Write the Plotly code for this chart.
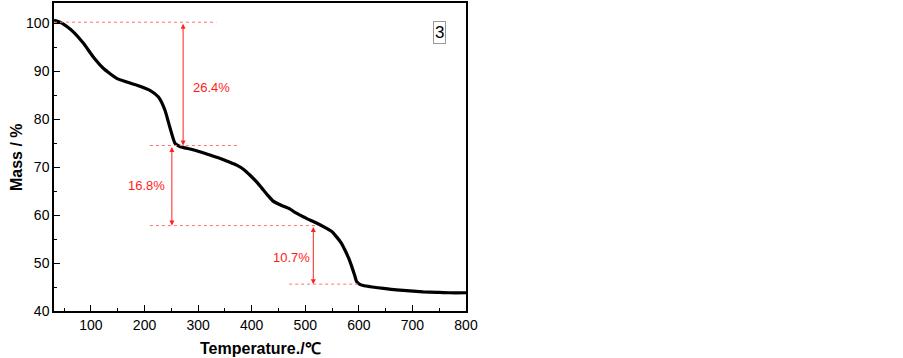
import plotly.graph_objects as go

# TGA curve (Temperature in degC, Mass in %)
temperature = [31, 44, 55, 67, 86, 104, 123, 148, 185, 210, 226, 238, 247, 257, 264, 272, 287, 303,
               322, 341, 357, 372, 385, 397, 410, 422, 431, 440, 456, 471, 480, 490, 502, 520, 540,
               550, 558, 567, 574, 581, 587, 592, 596, 601, 608, 625, 646, 670, 695, 720, 745, 770, 800]
mass = [100.6, 100.1, 99.3, 98.2, 95.8, 93.0, 90.6, 88.5, 87.1, 86.0, 84.6, 81.9, 78.4, 74.9, 74.4,
        74.1, 73.7, 73.2, 72.5, 71.8, 71.1, 70.4, 69.5, 68.3, 66.8, 65.2, 64.0, 62.9, 62.0, 61.3,
        60.6, 60.0, 59.3, 58.4, 57.2, 56.5, 55.5, 54.2, 52.7, 51.0, 49.2, 47.5, 46.1, 45.6, 45.3,
        45.0, 44.7, 44.4, 44.2, 44.0, 43.9, 43.8, 43.8]

# dashed reference levels: (level, x start, x end)
level_y = [100.2, 74.5, 57.8, 45.6]
level_x0 = [31, 210, 210, 470]
level_x1 = [334, 378, 524, 602]

# step arrows: x position, top, bottom, label, label x, label y
step_x = [272, 251, 515]
step_top = [100.2, 74.5, 57.8]
step_bot = [74.5, 57.8, 45.6]
step_label = ["26.4%", "16.8%", "10.7%"]
label_x = [286, 204, 474]
label_y = [86.5, 66.1, 51.2]

fig = go.Figure()
fig.add_trace(go.Scatter(x=temperature, y=mass, mode="lines",
                         line=dict(color="black", width=3.2, shape="spline", smoothing=0.5),
                         showlegend=False, hoverinfo="skip"))

for y, x0, x1 in zip(level_y, level_x0, level_x1):
    fig.add_shape(type="line", xref="x", yref="y", x0=x0, x1=x1, y0=y, y1=y,
                  line=dict(color="#ff7070", width=1, dash="dot"))

for x, t, b in zip(step_x, step_top, step_bot):
    fig.add_annotation(x=x, y=b, ax=x, ay=t, xref="x", yref="y", axref="x", ayref="y",
                       text="", showarrow=True, arrowhead=2, arrowside="end+start",
                       arrowsize=1, arrowwidth=1, arrowcolor="#ff2020", standoff=0, startstandoff=0)

for lbl, lx, ly in zip(step_label, label_x, label_y):
    fig.add_annotation(x=lx, y=ly, xref="x", yref="y", text=lbl, showarrow=False,
                       xanchor="left" if lx == label_x[0] else "center",
                       font=dict(family="Liberation Sans, Arial", size=13, color="#ff1a1a"))

fig.add_annotation(x=750, y=98.1, xref="x", yref="y", text="3", showarrow=False,
                   font=dict(family="Liberation Sans, Arial", size=17, color="black"),
                   bordercolor="#999999", borderwidth=1, borderpad=1, bgcolor="white")

# axis titles
fig.add_annotation(x=0.5, y=0, xref="paper", yref="paper", yshift=-37, xanchor="center",
                   yanchor="middle", text="<b>Temperature./℃</b>", showarrow=False,
                   font=dict(family="Liberation Sans, Arial", size=16, color="black"))
fig.add_annotation(x=0, y=0.5, xref="paper", yref="paper", xshift=-38, xanchor="center",
                   yanchor="middle", text="<b>Mass / %</b>", showarrow=False, textangle=-90,
                   font=dict(family="Liberation Sans, Arial", size=16, color="black"))

axis_common = dict(showline=True, linecolor="black", linewidth=1.5, mirror=True, ticks="inside",
                   ticklen=6, tickwidth=1.2, tickcolor="black", showgrid=False, zeroline=False,
                   automargin=False,
                   tickfont=dict(family="Liberation Sans, Arial", size=14, color="black"))

fig.update_xaxes(range=[31, 800], tickvals=[100, 200, 300, 400, 500, 600, 700, 800],
                 minor=dict(ticks="inside", ticklen=3, tickwidth=1, tickcolor="black", dtick=50, tick0=50),
                 **axis_common)
fig.update_yaxes(range=[40, 104.2], tickvals=[40, 50, 60, 70, 80, 90, 100],
                 minor=dict(ticks="inside", ticklen=3, tickwidth=1, tickcolor="black", dtick=5, tick0=45),
                 **axis_common)

fig.update_layout(width=903, height=358, margin=dict(l=54, r=437, t=3, b=47),
                  plot_bgcolor="white", paper_bgcolor="white")
fig.write_html("out.html", config={"displayModeBar": False},
               post_script="document.body.style.margin='0';document.body.style.padding='0';"
                           "document.documentElement.style.overflow='hidden';")
